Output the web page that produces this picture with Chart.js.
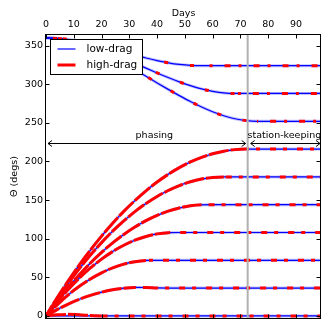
<!DOCTYPE html>
<html>
<head>
<meta charset="utf-8">
<script src="https://cdn.jsdelivr.net/npm/chart.js@4/dist/chart.umd.min.js"></script>
<style>
html, body { margin: 0; padding: 0; background: #fff; }
</style>
</head>
<body>
<canvas id="chart" width="332" height="332"></canvas>
<script>

// ---- data ----
const days = [0, 4, 8, 12, 16, 20, 24, 28, 32, 36, 40, 44, 48, 52, 56, 60, 64, 68, 72, 76, 80, 84, 88, 92, 96, 99];

const theta0   = [0, 0, 0, 0, 0, 0, 0, 0, 0, 0, 0, 0, 0, 0, 0, 0, 0, 0, 0, 0, 0, 0, 0, 0, 0, 0];
const theta0hi = [0, 1.5, 2, 1.5, 0.5, 0, 0, 0, 0, 0, 0, 0, 0, 0, 0, 0, 0, 0, 0, 0, 0, 0, 0, 0, 0, 0];
const theta36  = [0, 8.2, 15.4, 21.5, 26.6, 30.7, 33.8, 35.9, 36.9, 36.8, 36.2, 36, 36, 36, 36, 36, 36, 36, 36, 36, 36, 36, 36, 36, 36, 36];
const theta72  = [0, 14.3, 27.2, 38.3, 47.9, 55.8, 62.2, 67.0, 70.2, 71.8, 72, 72, 72, 72, 72, 72, 72, 72, 72, 72, 72, 72, 72, 72, 72, 72];
const theta108 = [0, 17.9, 34.3, 49.0, 62.1, 73.5, 83.3, 91.5, 98.0, 102.9, 106.2, 107.8, 108, 108, 108, 108, 108, 108, 108, 108, 108, 108, 108, 108, 108, 108];
const theta144 = [0, 19.2, 37.0, 53.4, 68.5, 82.2, 94.6, 105.5, 115.1, 123.3, 130.1, 135.6, 139.7, 142.5, 143.8, 144, 144, 144, 144, 144, 144, 144, 144, 144, 144, 144];
const theta180 = [0, 21.8, 42.2, 61.2, 78.8, 94.9, 109.7, 123.0, 135, 145.6, 154.7, 162.4, 168.8, 173.7, 177.2, 179.3, 180, 180, 180, 180, 180, 180, 180, 180, 180, 180];
const theta216 = [0, 23.4, 45.3, 66.0, 85.3, 103.3, 120, 135.4, 149.3, 162, 173.3, 183.3, 192, 199.3, 205.3, 210, 213.3, 215.3, 216, 216, 216, 216, 216, 216, 216, 216];
const theta324 = [360, 359.5, 357.9, 355.6, 352.6, 349.2, 345.4, 341.5, 337.6, 333.9, 330.6, 327.7, 325.6, 324.3, 324, 324, 324, 324, 324, 324, 324, 324, 324, 324, 324, 324];
const theta288 = [360, 359.3, 357.2, 354.1, 349.9, 345, 339.4, 333.4, 327.2, 320.8, 314.6, 308.6, 303, 298.1, 293.9, 290.8, 288.7, 288, 288, 288, 288, 288, 288, 288, 288, 288];
const theta252 = [360, 359.1, 356.7, 352.8, 347.7, 341.5, 334.5, 326.8, 318.7, 310.3, 301.7, 293.3, 285.2, 277.5, 270.5, 264.3, 259.2, 255.3, 252.9, 252, 252, 252, 252, 252, 252, 252];

const xTicks = [0, 10, 20, 30, 40, 50, 60, 70, 80, 90];
const yTicks = [0, 50, 100, 150, 200, 250, 300, 350];

const phaseEnd = 72.6;      // day where phasing stops
const arrowLevel = 224;     // theta where the arrows sit
const phasingLabelAt = 39;

const lowCurves = [theta0, theta36, theta72, theta108, theta144, theta180, theta216, theta324, theta288, theta252];
const highCurves = [theta0hi, theta36, theta72, theta108, theta144, theta180, theta216, theta324, theta288, theta252];

const FONT = '"DejaVu Sans", sans-serif';
Chart.defaults.font.family = FONT;
Chart.defaults.font.size = 9.5;
Chart.defaults.color = "#000";

// ---- datasets ----
const datasets = [];
highCurves.forEach((c, i) => {
    const upper = c[0] > 180;
    datasets.push({
        label: "high-drag",
        data: days.map((d, k) => ({ x: d, y: c[k] })),
        borderColor: "#ff0000",
        borderWidth: 3,
        pointRadius: 0,
        cubicInterpolationMode: "monotone",
        borderDashOffset: i * 5,
        order: 0,
        segment: {
            borderDash: ctx => {
                const flat = Math.abs(ctx.p0.parsed.y - ctx.p1.parsed.y) < 0.3;
                if (upper) return flat ? [6, 8, 3, 12] : [4, 22];
                return flat ? [6, 7, 4, 10] : [20, 2];
            }
        }
    });
});
lowCurves.forEach(c => {
    // pale band under the flat parts
    datasets.push({
        label: "low-drag",
        data: days.map((d, k) => ({ x: d, y: c[k] })),
        borderColor: "rgba(120,120,255,0.45)",
        borderWidth: 3,
        pointRadius: 0,
        cubicInterpolationMode: "monotone",
        order: 2
    });
    datasets.push({
        label: "low-drag",
        data: days.map((d, k) => ({ x: d, y: c[k] })),
        borderColor: "#0000ff",
        borderWidth: 1.2,
        pointRadius: 0,
        cubicInterpolationMode: "monotone",
        order: 1
    });
});

function arrow(ctx, x0, x1, y) {
    ctx.beginPath();
    ctx.moveTo(x0, y); ctx.lineTo(x1, y);
    ctx.moveTo(x0 + 4, y - 3); ctx.lineTo(x0, y); ctx.lineTo(x0 + 4, y + 3);
    ctx.moveTo(x1 - 4, y - 3); ctx.lineTo(x1, y); ctx.lineTo(x1 - 4, y + 3);
    ctx.stroke();
}

const decor = {
    id: "decor",
    afterDatasetsDraw(chart) {
        const { ctx, chartArea: a, scales: { x, y } } = chart;
        ctx.save();
        const xs = x.getPixelForValue(phaseEnd);
        ctx.strokeStyle = "#b0b0b0";
        ctx.lineWidth = 2;
        ctx.beginPath(); ctx.moveTo(xs, a.top); ctx.lineTo(xs, a.bottom); ctx.stroke();

        const ya = Math.round(y.getPixelForValue(arrowLevel)) + 0.5;
        ctx.strokeStyle = "#000";
        ctx.lineWidth = 1;
        arrow(ctx, a.left + 2, xs - 2, ya);
        arrow(ctx, xs + 3, a.right - 1, ya);

        ctx.fillStyle = "#000";
        ctx.font = "9.5px " + FONT;
        ctx.textAlign = "center";
        ctx.textBaseline = "alphabetic";
        ctx.fillText("phasing", x.getPixelForValue(phasingLabelAt), ya - 6);
        ctx.fillText("station-keeping", (xs + a.right) / 2, ya - 6);
        ctx.restore();
    },
    afterDraw(chart) {
        const { ctx, chartArea: a, scales: { x, y } } = chart;
        ctx.save();
        // frame
        const l = Math.round(a.left) - 0.5, r = Math.round(a.right) - 0.5;
        const t = Math.round(a.top) + 0.5, b = Math.round(a.bottom) - 0.5;
        ctx.strokeStyle = "#000";
        ctx.lineWidth = 1;
        ctx.strokeRect(l, t, r - l, b - t);
        // inward ticks
        ctx.beginPath();
        xTicks.forEach(v => {
            const px = Math.round(x.getPixelForValue(v)) + 0.5;
            ctx.moveTo(px, t); ctx.lineTo(px, t + 4);
            ctx.moveTo(px, b); ctx.lineTo(px, b - 4);
        });
        yTicks.forEach(v => {
            const py = Math.round(y.getPixelForValue(v)) + 0.5;
            ctx.moveTo(l, py); ctx.lineTo(l + 4, py);
            ctx.moveTo(r, py); ctx.lineTo(r - 4, py);
        });
        ctx.stroke();

        // legend
        const lx = l + 5, ly = t + 5, lw = 92, lh = 35;
        ctx.fillStyle = "#fff";
        ctx.fillRect(lx, ly, lw, lh);
        ctx.strokeRect(lx, ly, lw, lh);
        const items = [["low-drag", "#0000ff", 1.2], ["high-drag", "#ff0000", 3]];
        ctx.font = "10.5px " + FONT;
        ctx.textAlign = "left";
        ctx.textBaseline = "middle";
        items.forEach((it, i) => {
            const cy = ly + 9.5 + i * 16;
            ctx.strokeStyle = it[1];
            ctx.lineWidth = it[2];
            ctx.beginPath(); ctx.moveTo(lx + 7, cy); ctx.lineTo(lx + 25, cy); ctx.stroke();
            ctx.fillStyle = "#000";
            ctx.fillText(it[0], lx + 36, cy);
        });
        ctx.restore();
    }
};

new Chart(document.getElementById("chart").getContext("2d"), {
    type: "line",
    data: { datasets },
    options: {
        responsive: false,
        animation: false,
        layout: { padding: { left: 0, top: 0, right: 11, bottom: 13 } },
        plugins: { legend: { display: false }, tooltip: { enabled: false } },
        scales: {
            x: {
                type: "linear",
                position: "top",
                min: 0,
                max: 99,
                grid: { display: false, drawTicks: false },
                border: { display: false },
                ticks: { padding: 4 },
                title: { display: true, text: "Days", padding: { top: 8, bottom: 0 } },
                afterBuildTicks: s => { s.ticks = xTicks.map(v => ({ value: v })); },
                afterFit: s => { s.height = 34; }
            },
            y: {
                type: "linear",
                min: -4,
                max: 365,
                grid: { display: false, drawTicks: false },
                border: { display: false },
                ticks: { padding: 3 },
                title: { display: true, text: "Θ (degs)", padding: { top: 9, bottom: 0 } },
                afterBuildTicks: s => { s.ticks = yTicks.map(v => ({ value: v })); },
                afterFit: s => { s.width = 46; }
            }
        }
    },
    plugins: [decor]
});
</script>
</body>
</html>
